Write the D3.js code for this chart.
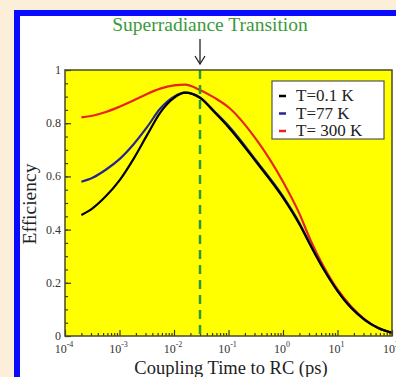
<!DOCTYPE html>
<html>
<head>
<meta charset="utf-8">
<script src="https://cdn.jsdelivr.net/npm/d3@7"></script>
<style>
  html, body { margin: 0; padding: 0; background: #fcefd9; }
  svg { display: block; }
  text { font-family: "Liberation Serif", "DejaVu Serif", serif; }
</style>
</head>
<body>
<svg id="chart" width="396" height="377"></svg>
<script>
// coupling time to RC (ps), shared by all three curves
const couplingTimes = [2.0e-4, 3.2e-4, 5.6e-4, 1e-3, 1.8e-3, 3.2e-3, 5.6e-3, 1e-2, 1.6e-2, 3e-2,
  5.6e-2, 0.1, 0.32, 1, 2, 3.2, 5.6, 10, 18, 32, 56, 100];
const effT01 = [0.455, 0.48, 0.525, 0.585, 0.665, 0.755, 0.84, 0.895, 0.915, 0.895,
  0.84, 0.785, 0.655, 0.52, 0.42, 0.34, 0.25, 0.17, 0.105, 0.06, 0.03, 0.012];
const effT77 = [0.58, 0.595, 0.625, 0.665, 0.72, 0.785, 0.855, 0.90, 0.915, 0.897,
  0.843, 0.79, 0.66, 0.525, 0.425, 0.343, 0.252, 0.17, 0.105, 0.06, 0.03, 0.012];
const effT300 = [0.822, 0.828, 0.842, 0.862, 0.885, 0.91, 0.93, 0.942, 0.945, 0.925,
  0.895, 0.86, 0.74, 0.58, 0.46, 0.36, 0.26, 0.175, 0.11, 0.062, 0.03, 0.012];
const seriesNames = ['T=0.1 K', 'T=77 K', 'T= 300 K'];
const seriesColors = ['#000000', '#26268f', '#e8241c'];
const xTickExps = [-4, -3, -2, -1, 0, 1, 2];
const yTicks = [0, 0.2, 0.4, 0.6, 0.8, 1];
const transitionTime = 0.03;

const serif = '"Liberation Serif", "DejaVu Serif", serif';
const svg = d3.select('#chart');
const W = 396, H = 377;
const margin = { left: 65, top: 70, right: 4, bottom: 41 };
const plotW = W - margin.left - margin.right;
const plotH = H - margin.top - margin.bottom;

// blue framed panel
svg.append('rect')
  .attr('x', 17).attr('y', 13)
  .attr('width', 420).attr('height', 420)
  .attr('fill', '#ffffff')
  .attr('stroke', '#0a0aff')
  .attr('stroke-width', 6);

const x = d3.scaleLog().domain([1e-4, 1e2]).range([0, plotW]);
const y = d3.scaleLinear().domain([0, 1]).range([plotH, 0]);

const g = svg.append('g').attr('transform', `translate(${margin.left},${margin.top})`);

g.append('rect')
  .attr('width', plotW).attr('height', plotH)
  .attr('fill', '#ffff00');

// minor / major ticks (inward)
const minorX = [];
for (let e = -4; e < 2; e++) for (let m = 2; m <= 9; m++) minorX.push(m * Math.pow(10, e));
g.append('g')
  .attr('transform', `translate(0,${plotH})`)
  .call(d3.axisBottom(x).tickValues(minorX).tickSizeInner(-3).tickSizeOuter(0).tickFormat(''))
  .call(s => s.select('.domain').remove());
g.append('g')
  .attr('transform', `translate(0,${plotH})`)
  .call(d3.axisBottom(x).tickValues(xTickExps.map(e => Math.pow(10, e))).tickSizeInner(-6).tickSizeOuter(0).tickFormat(''))
  .call(s => s.select('.domain').remove());

g.append('g')
  .call(d3.axisLeft(y).tickValues(d3.range(0, 1.001, 0.05)).tickSizeInner(-3).tickSizeOuter(0).tickFormat(''))
  .call(s => s.select('.domain').remove());
g.append('g')
  .call(d3.axisLeft(y).tickValues(yTicks).tickSizeInner(-6).tickSizeOuter(0).tickFormat(''))
  .call(s => s.select('.domain').remove());
g.selectAll('.tick line').attr('stroke', '#3a3a20').attr('stroke-width', 1.2);

// tick labels
const xl = g.append('g').selectAll('text')
  .data(xTickExps)
  .enter().append('text')
  .attr('x', d => x(Math.pow(10, d)) - 1)
  .attr('y', plotH + 17)
  .attr('text-anchor', 'middle')
  .attr('font-family', serif)
  .attr('font-size', 12)
  .attr('fill', '#333');
xl.append('tspan').text('10');
xl.append('tspan').attr('dy', -6).attr('font-size', 8).text(d => d);

g.append('g').selectAll('text')
  .data(yTicks)
  .enter().append('text')
  .attr('x', -4)
  .attr('y', d => y(d) + 4)
  .attr('text-anchor', 'end')
  .attr('font-family', serif)
  .attr('font-size', 12)
  .attr('fill', '#333')
  .text(d => (d === 0 || d === 1) ? d : d.toFixed(1));

// curves
const series = [effT01, effT77, effT300].map((vals, i) => ({
  name: seriesNames[i],
  color: seriesColors[i],
  values: couplingTimes.map((t, j) => ({ t, e: vals[j] }))
}));

const line = d3.line()
  .x(d => x(d.t))
  .y(d => y(d.e))
  .curve(d3.curveMonotoneX);

// draw red first, then blue, then black on top
[2, 1, 0].forEach(i => {
  g.append('path')
    .datum(series[i].values)
    .attr('fill', 'none')
    .attr('stroke', series[i].color)
    .attr('stroke-width', 2.2)
    .attr('d', line);
});

// superradiance transition marker
g.append('line')
  .attr('x1', x(transitionTime)).attr('x2', x(transitionTime))
  .attr('y1', 0).attr('y2', plotH)
  .attr('stroke', '#2e9a2e')
  .attr('stroke-width', 2.5)
  .attr('stroke-dasharray', '9,6');

// frame
g.append('rect')
  .attr('width', plotW).attr('height', plotH)
  .attr('fill', 'none')
  .attr('stroke', '#4a4a28')
  .attr('stroke-width', 1.5);

// legend
const leg = g.append('g').attr('transform', `translate(${272 - margin.left},${81 - margin.top})`);
leg.append('rect')
  .attr('width', 112).attr('height', 58)
  .attr('fill', '#ffffff')
  .attr('stroke', '#555')
  .attr('stroke-width', 1.2);
series.forEach((s, i) => {
  const ry = 20 + i * 17.5;
  leg.append('line')
    .attr('x1', 7).attr('x2', 14)
    .attr('y1', ry - 5).attr('y2', ry - 5)
    .attr('stroke', s.color)
    .attr('stroke-width', 2.5);
  leg.append('text')
    .attr('x', 24).attr('y', ry)
    .attr('font-family', serif)
    .attr('font-size', 17)
    .attr('fill', '#222')
    .text(s.name);
});

// title and arrow
const tx = margin.left + x(transitionTime);
svg.append('text')
  .attr('x', 210).attr('y', 31)
  .attr('text-anchor', 'middle')
  .attr('font-family', serif)
  .attr('font-size', 19.5)
  .attr('fill', '#3a9a3a')
  .text('Superradiance Transition');
svg.append('line')
  .attr('x1', tx).attr('x2', tx)
  .attr('y1', 39).attr('y2', 64)
  .attr('stroke', '#222').attr('stroke-width', 1.3);
svg.append('path')
  .attr('d', `M${tx - 5},${56} L${tx},${64} L${tx + 5},${56}`)
  .attr('fill', 'none')
  .attr('stroke', '#222').attr('stroke-width', 1.3);

// axis titles
svg.append('text')
  .attr('x', 231).attr('y', 374)
  .attr('text-anchor', 'middle')
  .attr('font-family', serif)
  .attr('font-size', 18.5)
  .attr('fill', '#222')
  .text('Coupling Time to RC (ps)');
svg.append('text')
  .attr('transform', 'translate(36,204) rotate(-90)')
  .attr('text-anchor', 'middle')
  .attr('font-family', serif)
  .attr('font-size', 19.5)
  .attr('fill', '#222')
  .text('Efficiency');
</script>
</body>
</html>
